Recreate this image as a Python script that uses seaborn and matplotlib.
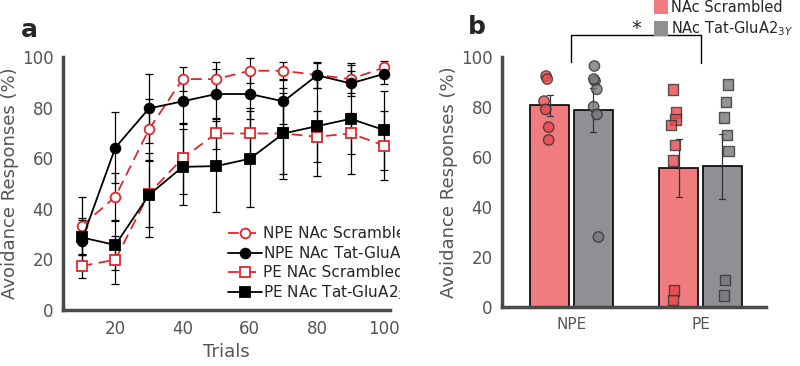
import numpy as np
import pandas as pd
import matplotlib.pyplot as plt
import seaborn as sns
from matplotlib.patches import Patch
from matplotlib.transforms import Bbox, TransformedBbox

sns.set_style('white')
plt.rcParams['font.family'] = ['DejaVu Sans']

# panel a: learning curves (mean and SEM per 10 trials)
trials = [10, 20, 30, 40, 50, 60, 70, 80, 90, 100]
npe_scr = [33.2, 44.8, 71.4, 91.3, 91.3, 94.6, 94.6, 92.9, 91.3, 95.9]
npe_scr_sem = [11.6, 9.5, 12, 4.8, 6.7, 5, 3.5, 5, 5.5, 2.5]
npe_tat = [27.4, 64.2, 79.7, 82.5, 85.4, 85.4, 82.5, 92.8, 89.6, 93.4]
npe_tat_sem = [9, 14, 13.6, 9, 10, 10, 9, 5, 5, 4]
pe_scr = [17.4, 19.9, 46.0, 60.0, 69.8, 69.8, 69.8, 68.5, 69.8, 65.0]
pe_scr_sem = [4.8, 9.5, 13, 14, 6, 10, 16, 10, 8, 13.6]
pe_tat = [28.7, 25.7, 45.5, 56.6, 56.9, 59.8, 69.8, 72.7, 75.6, 71.1]
pe_tat_sem = [7, 10, 16.5, 15, 18, 19, 18, 19.7, 22, 15.6]

# panel b: individual animals
npe_scr_pts = [92.3, 91.1, 82.3, 79.0, 71.9, 66.8]
npe_tat_pts = [96.3, 90.3, 91.1, 87.0, 80.1, 77.0, 28.1]
pe_scr_pts = [87.0, 77.8, 75.0, 72.7, 64.8, 58.6, 6.8, 2.9]
pe_tat_pts = [89.0, 82.0, 75.8, 68.8, 62.5, 10.9, 4.8]

red = '#e0262b'
bar_red = '#f07c7f'
bar_gray = '#8f9093'
axc = '#4a4a4a'
txt = '#555555'

fig = plt.figure(figsize=(8, 3.66), dpi=100)
ax1 = fig.add_axes([0.079, 0.153, 0.409, 0.691])
ax2 = fig.add_axes([0.628, 0.160, 0.330, 0.685])

dash = (0, (6, 3.5))
series = [
    ('NPE NAc Scrambled', npe_scr, npe_scr_sem, 'o', red, 'white', dash),
    ('NPE NAc Tat-GluA2$_{3Y}$', npe_tat, npe_tat_sem, 'o', 'black', 'black', '-'),
    ('PE NAc Scrambled', pe_scr, pe_scr_sem, 's', red, 'white', dash),
    ('PE NAc Tat-GluA2$_{3Y}$', pe_tat, pe_tat_sem, 's', 'black', 'black', '-'),
]
for label, m, s, mk, col, face, ls in series:
    ax1.errorbar(trials, m, yerr=s, fmt='none', ecolor='black', elinewidth=0.9,
                 capsize=3, capthick=0.9, zorder=1)
for label, m, s, mk, col, face, ls in series:
    ax1.plot(trials, m, color=col, linestyle=ls, linewidth=1.3, marker=mk,
             markersize=7, markerfacecolor=face, markeredgecolor=col,
             markeredgewidth=1.3, label=label, zorder=3)

ax1.set_xlim(4.5, 101.8)
ax1.set_ylim(0, 100)
ax1.set_xticks([20, 40, 60, 80, 100])
ax1.set_yticks([0, 20, 40, 60, 80, 100])
ax1.set_xlabel('Trials', fontsize=13, color=txt, labelpad=4)
ax1.set_ylabel('Avoidance Responses (%)', fontsize=13, color=txt, labelpad=2)
leg = ax1.legend(loc='lower left', bbox_to_anchor=(0.285, 0.176),
                 bbox_transform=fig.transFigure, frameon=False,
                 fontsize=11, handlelength=2.2, handletextpad=0.1,
                 labelspacing=0.17, borderaxespad=0, borderpad=0)
# the source panel is cropped at its right edge, cutting the legend text
clip = TransformedBbox(Bbox([[0, 0], [0.5, 1]]), fig.transFigure)
for t in leg.get_texts():
    t.set_clip_box(clip)
    t.set_clip_on(True)

# panel b: bars + individual points
rows = []
for grp, cond, vals in [('NPE', 'NAc Scrambled', npe_scr_pts),
                        ('NPE', 'NAc Tat-GluA2', npe_tat_pts),
                        ('PE', 'NAc Scrambled', pe_scr_pts),
                        ('PE', 'NAc Tat-GluA2', pe_tat_pts)]:
    for v in vals:
        rows.append({'group': grp, 'cond': cond, 'value': v})
df = pd.DataFrame(rows)
order = ['NPE', 'PE']
hue_order = ['NAc Scrambled', 'NAc Tat-GluA2']

sns.barplot(data=df, x='group', y='value', hue='cond', order=order,
            hue_order=hue_order, palette=[bar_red, bar_gray], saturation=1,
            errorbar='se', width=0.67, gap=0.1, edgecolor='black',
            linewidth=1.2, err_kws={'color': '#333333', 'linewidth': 0.9},
            capsize=0.1, legend=False, ax=ax2)

np.random.seed(3)
pt_pal = ['#e8474c', '#76787b']
for grp, mk in [('NPE', 'o'), ('PE', 's')]:
    sns.stripplot(data=df[df['group'] == grp], x='group', y='value', hue='cond',
                  order=order, hue_order=hue_order, dodge=True, jitter=0.06,
                  marker=mk, size=7.5, palette=pt_pal, alpha=0.8,
                  edgecolor='#333333', linewidth=1, legend=False, ax=ax2,
                  zorder=4)

ax2.set_xlim(-0.535, 1.51)
ax2.set_ylim(0, 100)
ax2.set_yticks([0, 20, 40, 60, 80, 100])
ax2.set_xlabel('')
ax2.set_ylabel('Avoidance Responses (%)', fontsize=13, color=txt, labelpad=2)

for ax in (ax1, ax2):
    sns.despine(ax=ax)
    for sp in ('left', 'bottom'):
        ax.spines[sp].set_linewidth(2.5)
        ax.spines[sp].set_color(axc)
    ax.tick_params(axis='both', direction='out', length=4, width=1.5,
                   color=axc, labelsize=12, labelcolor=txt, pad=3)
ax2.tick_params(axis='x', labelsize=11)

# significance bracket
ax2.plot([0, 0, 1, 1], [98, 108.7, 108.7, 97.6], color='black', linewidth=1,
         clip_on=False)
ax2.text(0.5, 107.5, '*', ha='center', va='bottom', fontsize=14)

handles = [Patch(facecolor=bar_red, edgecolor='none'),
           Patch(facecolor=bar_gray, edgecolor='none')]
fig.legend(handles, ['NAc Scrambled', 'NAc Tat-GluA2$_{3Y}$'],
           loc='upper left', bbox_to_anchor=(0.808, 1.02), frameon=False,
           fontsize=10.5, handlelength=1.0, handleheight=1.15,
           handletextpad=0.2, labelspacing=0.28, borderaxespad=0.1)

fig.text(0.026, 0.918, 'a', fontsize=18, fontweight='bold', va='center')
fig.text(0.585, 0.925, 'b', fontsize=18, fontweight='bold', va='center')

fig.savefig('out.png', dpi=100)
